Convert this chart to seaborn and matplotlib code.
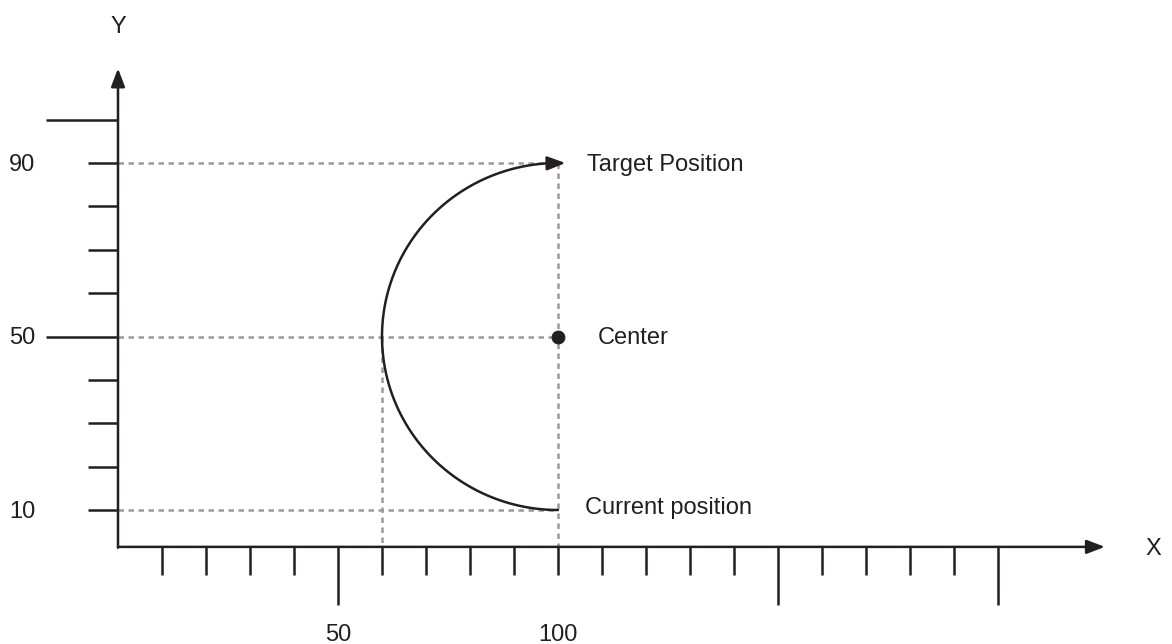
import numpy as np
import matplotlib
matplotlib.use("Agg")
import matplotlib.pyplot as plt
import seaborn as sns

# ---- data ----
center = (100, 50)
radius = 40
current_pos = (100, 10)
target_pos = (100, 90)
x_ticks = [10, 20, 30, 40, 50, 60, 70, 80, 90, 100, 110, 120, 130, 140, 150, 160, 170, 180, 190, 200]
x_long_ticks = [50, 150, 200]
x_tick_labels = {50: "50", 100: "100"}
y_ticks = [10, 20, 30, 40, 50, 60, 70, 80, 90, 100]
y_long_ticks = [50, 100]
y_tick_labels = {10: "10", 50: "50", 90: "90"}
point_labels = ["Target Position", "Center", "Current position"]
axis_names = ["X", "Y"]

sns.set_style("white")
plt.rcParams['font.family'] = ['Liberation Sans', 'DejaVu Sans']

fig = plt.figure(figsize=(11.72, 6.44), dpi=100)
ax = fig.add_axes([0, 0, 1, 1])
ax.set_xlim(-26.82, 239.55)
ax.set_ylim(-20.89, 127.58)
ax.axis("off")

black = "#231f20"
gray = "#9a9a9a"
y_base = 1.5   # x-axis sits slightly above y=0 in the drawing
lw = 1.8
fs = 17
dy = -0.45     # small text baseline adjustment
head = "-|>,head_length=1.1,head_width=0.42"

# axes with arrows
ax.annotate("", xy=(224.3, y_base), xytext=(0, y_base),
            arrowprops=dict(arrowstyle=head, color=black, lw=lw, shrinkA=0, shrinkB=0))
ax.annotate("", xy=(0, 111.8), xytext=(0, y_base - 0.2),
            arrowprops=dict(arrowstyle=head, color=black, lw=lw, shrinkA=0, shrinkB=0))

# x ticks
for xv in x_ticks:
    length = 13.3 if xv in x_long_ticks else 6.4
    ax.plot([xv, xv], [y_base, y_base - length], color=black, lw=lw, solid_capstyle="butt")
for xv, lab in x_tick_labels.items():
    ax.text(xv, -18.3 + dy, lab, ha="center", va="center", fontsize=fs, color=black)

# y ticks
for yv in y_ticks:
    length = 16.4 if yv in y_long_ticks else 6.8
    ax.plot([0, -length], [yv, yv], color=black, lw=lw, solid_capstyle="butt")
for yv, lab in y_tick_labels.items():
    ax.text(-21.8, yv + dy, lab, ha="center", va="center", fontsize=fs, color=black)

ax.text(0, 121.8 + dy, axis_names[1], ha="center", va="center", fontsize=fs, color=black)
ax.text(235.2, y_base + dy, axis_names[0], ha="center", va="center", fontsize=fs, color=black)

# dashed guide lines
dash = dict(color=gray, lw=1.8, ls=(0, (2.2, 1.8)))
for yv in [target_pos[1], center[1], current_pos[1]]:
    ax.plot([0, center[0]], [yv, yv], **dash)
ax.plot([center[0], center[0]], [target_pos[1], y_base], **dash)
ax.plot([center[0] - radius, center[0] - radius], [center[1], y_base], **dash)

# semicircular path
theta = np.linspace(-np.pi / 2, -3 * np.pi / 2, 200)
arc_x = center[0] + radius * np.cos(theta)
arc_y = center[1] + radius * np.sin(theta)
sns.lineplot(x=arc_x, y=arc_y, sort=False, estimator=None, errorbar=None,
             color=black, lw=lw, ax=ax)
ax.annotate("", xy=(target_pos[0] + 1.7, target_pos[1]), xytext=(target_pos[0] - 1.2, target_pos[1] - 0.06),
            arrowprops=dict(arrowstyle=head, color=black, lw=lw, shrinkA=0, shrinkB=0))

# center point
sns.scatterplot(x=[center[0]], y=[center[1]], s=85, color=black, edgecolor=black, ax=ax, zorder=5)

# labels
ax.text(target_pos[0] + 6.5, target_pos[1] + dy, point_labels[0], ha="left", va="center", fontsize=fs, color=black)
ax.text(center[0] + 9.0, center[1] + dy, point_labels[1], ha="left", va="center", fontsize=fs, color=black)
ax.text(current_pos[0] + 6.2, current_pos[1] + 0.8 + dy, point_labels[2], ha="left", va="center", fontsize=fs, color=black)

fig.savefig("out.png", dpi=100)
